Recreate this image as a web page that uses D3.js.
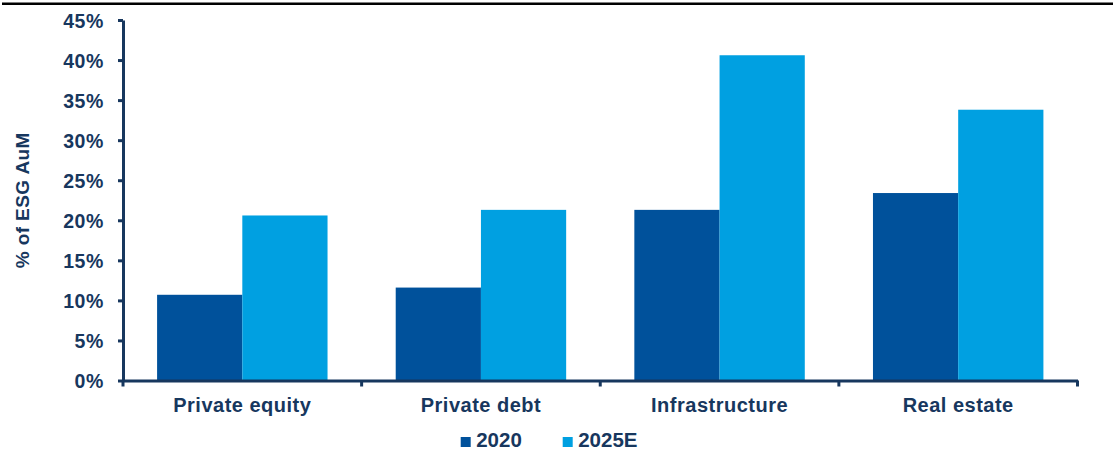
<!DOCTYPE html>
<html>
<head>
<meta charset="utf-8">
<script src="https://cdn.jsdelivr.net/npm/d3@7"></script>
<style>
  body { margin: 0; background: #fff; }
  text { font-family: "Liberation Sans", Arial, sans-serif; font-weight: bold; fill: #17375E; }
</style>
</head>
<body>
<svg id="chart"></svg>
<script>
const categories = ["Private equity", "Private debt", "Infrastructure", "Real estate"];
const series = ["2020", "2025E"];
const values2020 = [10.7, 11.6, 21.3, 23.4];
const values2025E = [20.6, 21.3, 40.6, 33.8];
const yTicks = [0, 5, 10, 15, 20, 25, 30, 35, 40, 45];
const colors = ["#00519B", "#00A0E1"];

const width = 1115, height = 453;
const margin = { top: 20, right: 37.5, bottom: 72.5, left: 123 };
const axisColor = "#17375E";

const svg = d3.select("#chart").attr("width", width).attr("height", height);

// top rule
svg.append("line")
  .attr("x1", 2).attr("x2", 1113)
  .attr("y1", 3.8).attr("y2", 3.8)
  .attr("stroke", "#000").attr("stroke-width", 2.5);

const data = categories.map((c, i) => ({ category: c, values: [values2020[i], values2025E[i]] }));

const x0 = d3.scaleBand()
  .domain(categories)
  .range([margin.left, width - margin.right])
  .paddingInner(0).paddingOuter(0);

const x1 = d3.scaleBand()
  .domain(series)
  .range([0, x0.bandwidth()])
  .paddingInner(0).paddingOuter(0.4);

const y = d3.scaleLinear()
  .domain([0, 45])
  .range([height - margin.bottom, margin.top]);

const color = d3.scaleOrdinal().domain(series).range(colors);

// bars
const groups = svg.append("g").selectAll("g")
  .data(data).join("g")
  .attr("transform", d => `translate(${x0(d.category)},0)`);

groups.selectAll("rect")
  .data(d => series.map((s, i) => ({ key: s, value: d.values[i] })))
  .join("rect")
  .attr("x", d => x1(d.key))
  .attr("width", x1.bandwidth())
  .attr("y", d => y(d.value))
  .attr("height", d => y(0) - y(d.value))
  .attr("fill", d => color(d.key));

// y axis
const yAxis = svg.append("g")
  .attr("transform", `translate(${margin.left},0)`)
  .call(d3.axisLeft(y).tickValues(yTicks).tickFormat(d => d + "%").tickSize(5).tickSizeOuter(0).tickPadding(14));
yAxis.select(".domain").attr("stroke", axisColor).attr("stroke-width", 3);
yAxis.selectAll(".tick line").attr("stroke", axisColor).attr("stroke-width", 3);
yAxis.selectAll(".tick text")
  .attr("fill", axisColor)
  .style("font-size", "19.5px")
  .style("font-family", "Liberation Sans, Arial, sans-serif")
  .style("font-weight", "bold")
  .style("letter-spacing", "0.6px")
  .attr("dy", "0.36em");

// x axis
const xAxis = svg.append("g")
  .attr("transform", `translate(0,${y(0)})`)
  .call(d3.axisBottom(x0).tickSize(0).tickPadding(17));
xAxis.select(".domain").attr("stroke", axisColor).attr("stroke-width", 3);
xAxis.selectAll(".tick text")
  .attr("fill", axisColor)
  .style("font-size", "20px")
  .style("font-family", "Liberation Sans, Arial, sans-serif")
  .style("font-weight", "bold")
  .style("letter-spacing", "0.5px");

// category boundary ticks
const boundaries = categories.map(c => x0(c)).concat([x0.range()[1]]);
xAxis.selectAll(".sep")
  .data(boundaries).join("line")
  .attr("class", "sep")
  .attr("x1", d => d).attr("x2", d => d)
  .attr("y1", 0).attr("y2", 6)
  .attr("stroke", axisColor).attr("stroke-width", 3);

// y title
svg.append("text")
  .attr("transform", `translate(29,${(margin.top + y(0)) / 2}) rotate(-90)`)
  .attr("text-anchor", "middle")
  .style("font-size", "19px")
  .style("letter-spacing", "0.4px")
  .text("% of ESG AuM");

// legend
const legendX = [460.7, 562.7];
const legend = svg.append("g").selectAll("g")
  .data(series).join("g")
  .attr("transform", (d, i) => `translate(${legendX[i]},437)`);
legend.append("rect")
  .attr("width", 10).attr("height", 10)
  .attr("fill", d => color(d));
legend.append("text")
  .attr("x", 15.5).attr("y", 10)
  .style("font-size", "20.5px")
  .text(d => d);
</script>
</body>
</html>
